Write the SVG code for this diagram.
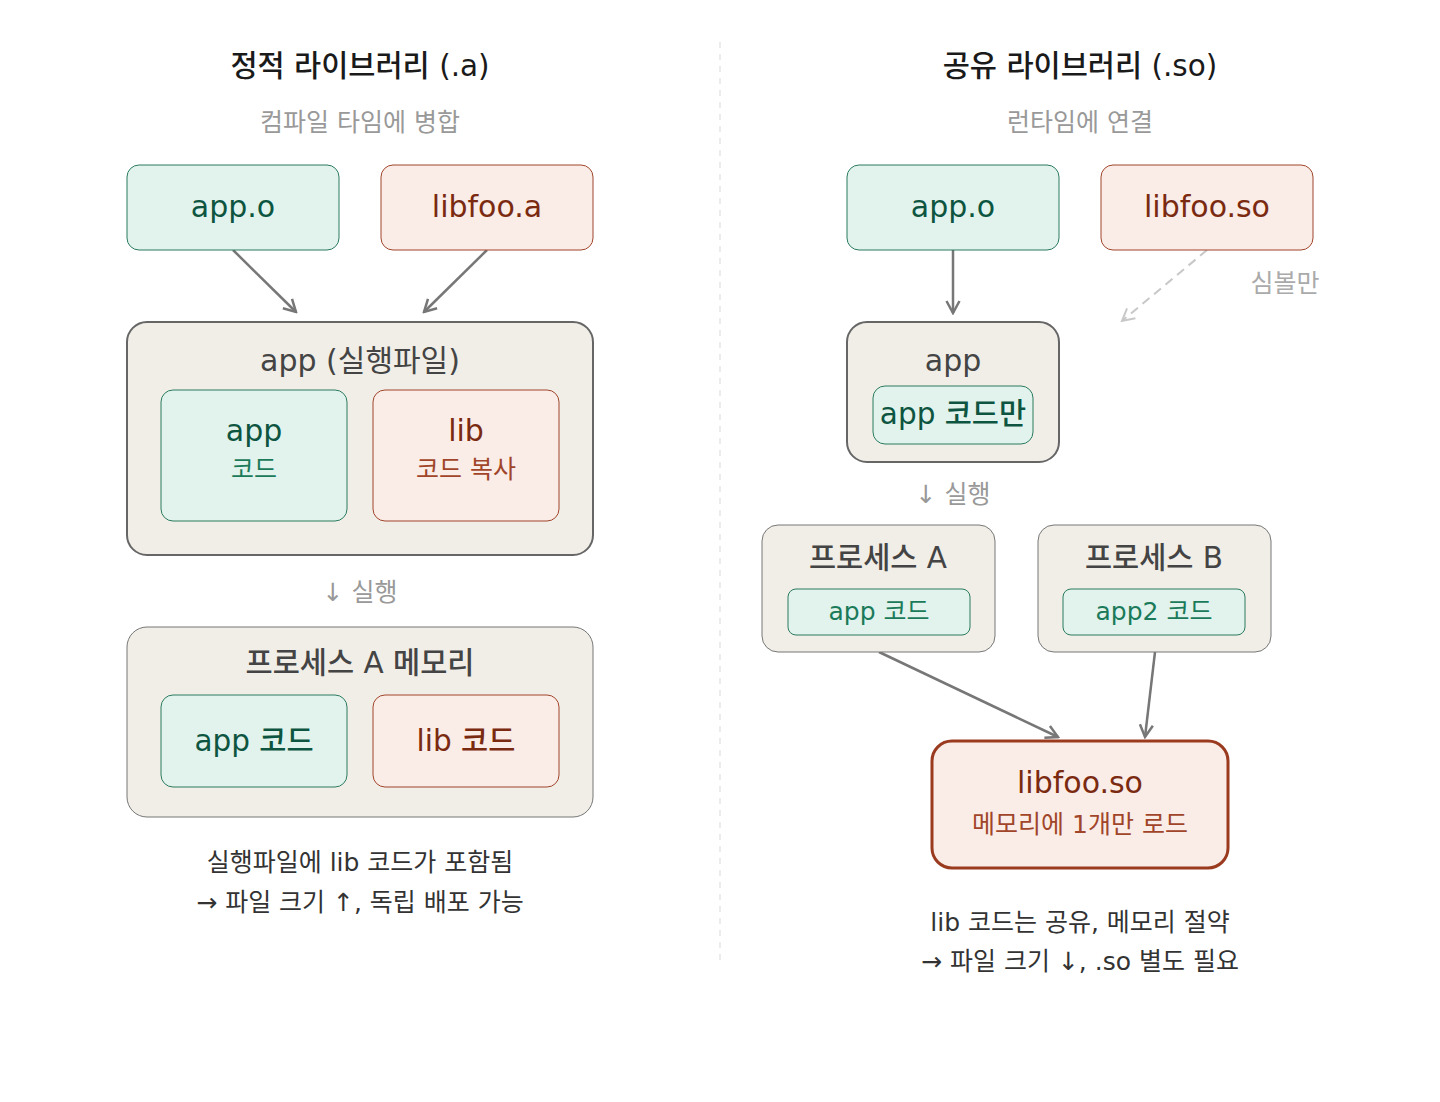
<svg xmlns="http://www.w3.org/2000/svg" width="1440" height="1102" viewBox="0 0 1440 1102">
<defs>
<style>
text{font-family:"DejaVu Sans","Noto Sans CJK KR",sans-serif;text-anchor:middle}
.title{font-size:29.5px;font-weight:500;fill:#1a1a1a}
.sub{font-size:25px;fill:#999}
.note{font-size:25px;fill:#999}
.foot{font-size:25px;fill:#333}
.g{fill:#e1f3ec;stroke:#2a7a5e;stroke-width:1}
.r{fill:#faece7;stroke:#a0452a;stroke-width:1}
.c{fill:#f1eee8;stroke:#666;stroke-width:2}
.c1{fill:#f1eee8;stroke:#777;stroke-width:1}
.gt{font-size:30px;fill:#0d5540}
.rt{font-size:30px;fill:#7a2a10}
.gs{font-size:25px;fill:#1a7a5a}
.rs{font-size:25px;fill:#a0452a}
.ct{font-size:30px;fill:#444}
.m{font-weight:500;font-size:29.5px}
.a{stroke:#777;stroke-width:2.5;fill:none}
</style>
<marker id="ah" viewBox="0 0 16 16" refX="14" refY="8" markerWidth="16" markerHeight="16" markerUnits="userSpaceOnUse" orient="auto">
<path d="M2,1.5 L14,8 L2,14.5" fill="none" stroke="#777" stroke-width="2.5"/>
</marker>
<marker id="ahd" viewBox="0 0 16 16" refX="14" refY="8" markerWidth="16" markerHeight="16" markerUnits="userSpaceOnUse" orient="auto">
<path d="M2,1.5 L14,8 L2,14.5" fill="none" stroke="#c8c8c8" stroke-width="2"/>
</marker>
</defs>
<rect width="1440" height="1102" fill="#fff"/>
<line x1="720" y1="42" x2="720" y2="966" stroke="#e6e6e6" stroke-width="1.5" stroke-dasharray="6,6"/>

<text class="title" x="360" y="76">정적 라이브러리 (.a)</text>
<text class="sub" x="360" y="131">컴파일 타임에 병합</text>
<text class="title" x="1080" y="76">공유 라이브러리 (.so)</text>
<text class="sub" x="1080" y="131">런타임에 연결</text>

<g id="connectors">
<line class="a" x1="233" y1="250" x2="296" y2="312" marker-end="url(#ah)"/>
<line class="a" x1="487" y1="250" x2="424" y2="312" marker-end="url(#ah)"/>
<line class="a" x1="953" y1="250" x2="953" y2="313" marker-end="url(#ah)"/>
<line x1="1207" y1="250" x2="1122" y2="321" stroke="#c8c8c8" stroke-width="2" stroke-dasharray="9,6" marker-end="url(#ahd)"/>
<line class="a" x1="879" y1="652" x2="1058" y2="737" marker-end="url(#ah)"/>
<line class="a" x1="1155" y1="652" x2="1145" y2="737" marker-end="url(#ah)"/>
</g>

<g id="left-appo"><rect class="g" x="127" y="165" width="212" height="85" rx="12"/><text class="gt" x="233" y="217">app.o</text></g>
<g id="left-libfooa"><rect class="r" x="381" y="165" width="212" height="85" rx="12"/><text class="rt" x="487" y="217">libfoo.a</text></g>

<g id="left-exe">
<rect class="c" x="127" y="322" width="466" height="233" rx="20"/>
<text class="ct" x="360" y="371">app (실행파일)</text>
<rect class="g" x="161" y="390" width="186" height="131" rx="12"/>
<text class="gt" x="254" y="441">app</text>
<text class="gs" x="254" y="478">코드</text>
<rect class="r" x="373" y="390" width="186" height="131" rx="12"/>
<text class="rt" x="466" y="441">lib</text>
<text class="rs" x="466" y="478">코드 복사</text>
</g>

<text class="note" x="360" y="601">↓ 실행</text>

<g id="left-proc">
<rect class="c1" x="127" y="627" width="466" height="190" rx="20"/>
<text class="ct m" x="360" y="673">프로세스 A 메모리</text>
<rect class="g" x="161" y="695" width="186" height="92" rx="12"/>
<text class="gt m" x="254" y="751">app 코드</text>
<rect class="r" x="373" y="695" width="186" height="92" rx="12"/>
<text class="rt m" x="466" y="751">lib 코드</text>
</g>

<text class="foot" x="360" y="871">실행파일에 lib 코드가 포함됨</text>
<text class="foot" x="360" y="911">→ 파일 크기 ↑, 독립 배포 가능</text>

<g id="right-appo"><rect class="g" x="847" y="165" width="212" height="85" rx="12"/><text class="gt" x="953" y="217">app.o</text></g>
<g id="right-libfooso"><rect class="r" x="1101" y="165" width="212" height="85" rx="12"/><text class="rt" x="1207" y="217">libfoo.so</text></g>
<text x="1285" y="292" style="font-size:25px;fill:#aaa">심볼만</text>

<g id="right-exe">
<rect class="c" x="847" y="322" width="212" height="140" rx="20"/>
<text class="ct" x="953" y="371">app</text>
<rect class="g" x="873" y="386" width="160" height="58" rx="12"/>
<text class="gt m" x="953" y="424">app 코드만</text>
</g>

<text class="note" x="953" y="503">↓ 실행</text>

<g id="proc-a">
<rect class="c1" x="762" y="525" width="233" height="127" rx="16"/>
<text class="ct m" x="878" y="568">프로세스 A</text>
<rect class="g" x="788" y="589" width="182" height="46" rx="8"/>
<text class="gs" x="879" y="620">app 코드</text>
</g>
<g id="proc-b">
<rect class="c1" x="1038" y="525" width="233" height="127" rx="16"/>
<text class="ct m" x="1154" y="568">프로세스 B</text>
<rect class="g" x="1063" y="589" width="182" height="46" rx="8"/>
<text class="gs" x="1154" y="620">app2 코드</text>
</g>

<g id="shared-lib">
<rect x="932" y="741" width="296" height="127" rx="20" fill="#faece7" stroke="#9a3a1e" stroke-width="3"/>
<text class="rt" x="1080" y="793">libfoo.so</text>
<text class="rs" x="1080" y="833">메모리에 1개만 로드</text>
</g>

<text class="foot" x="1080" y="931">lib 코드는 공유, 메모리 절약</text>
<text class="foot" x="1080" y="970">→ 파일 크기 ↓, .so 별도 필요</text>
</svg>
